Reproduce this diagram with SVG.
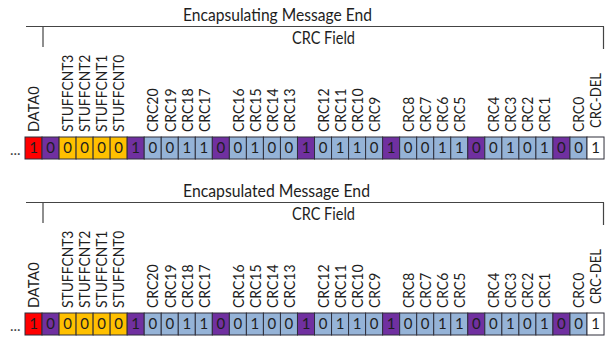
<svg xmlns="http://www.w3.org/2000/svg" width="605" height="337" viewBox="0 0 605 337">
<style>
text{font-family:Lato,"Open Sans","Liberation Sans",sans-serif;fill:#1e1e1e}
.t{font-size:17px}
.lb{font-size:16px}
.d{font-size:15px;text-anchor:middle}
.c{stroke:#2e2e3a;stroke-width:1}
.r{fill:#f00}.p{fill:#7030a0}.y{fill:#ffc000}.b{fill:#95b3d7}.w{fill:#fff}
.br{stroke:#444;stroke-width:1.2;fill:none}
.dots{font-size:15px;fill:#444}
</style>
<defs>
<g id="row">
<g id="cells">
<rect class="c r" x="25" y="0" width="17.03" height="22"/>
<rect class="c p" x="42.03" y="0" width="17.03" height="22"/>
<rect class="c y" x="59.06" y="0" width="17.03" height="22"/>
<rect class="c y" x="76.09" y="0" width="17.03" height="22"/>
<rect class="c y" x="93.12" y="0" width="17.03" height="22"/>
<rect class="c y" x="110.15" y="0" width="17.03" height="22"/>
<rect class="c p" x="127.18" y="0" width="17.03" height="22"/>
<rect class="c b" x="144.21" y="0" width="17.03" height="22"/>
<rect class="c b" x="161.24" y="0" width="17.03" height="22"/>
<rect class="c b" x="178.27" y="0" width="17.03" height="22"/>
<rect class="c b" x="195.30" y="0" width="17.03" height="22"/>
<rect class="c p" x="212.33" y="0" width="17.03" height="22"/>
<rect class="c b" x="229.36" y="0" width="17.03" height="22"/>
<rect class="c b" x="246.39" y="0" width="17.03" height="22"/>
<rect class="c b" x="263.42" y="0" width="17.03" height="22"/>
<rect class="c b" x="280.45" y="0" width="17.03" height="22"/>
<rect class="c p" x="297.48" y="0" width="17.03" height="22"/>
<rect class="c b" x="314.51" y="0" width="17.03" height="22"/>
<rect class="c b" x="331.54" y="0" width="17.03" height="22"/>
<rect class="c b" x="348.57" y="0" width="17.03" height="22"/>
<rect class="c b" x="365.60" y="0" width="17.03" height="22"/>
<rect class="c p" x="382.63" y="0" width="17.03" height="22"/>
<rect class="c b" x="399.66" y="0" width="17.03" height="22"/>
<rect class="c b" x="416.69" y="0" width="17.03" height="22"/>
<rect class="c b" x="433.72" y="0" width="17.03" height="22"/>
<rect class="c b" x="450.75" y="0" width="17.03" height="22"/>
<rect class="c p" x="467.78" y="0" width="17.03" height="22"/>
<rect class="c b" x="484.81" y="0" width="17.03" height="22"/>
<rect class="c b" x="501.84" y="0" width="17.03" height="22"/>
<rect class="c b" x="518.87" y="0" width="17.03" height="22"/>
<rect class="c b" x="535.90" y="0" width="17.03" height="22"/>
<rect class="c p" x="552.93" y="0" width="17.03" height="22"/>
<rect class="c b" x="569.96" y="0" width="17.03" height="22"/>
<rect class="c w" x="586.99" y="0" width="17.03" height="22"/>
</g>
<g id="digits">
<text class="d" x="33.52" y="16.3">1</text>
<text class="d" x="50.55" y="16.3">0</text>
<text class="d" x="67.58" y="16.3">0</text>
<text class="d" x="84.61" y="16.3">0</text>
<text class="d" x="101.64" y="16.3">0</text>
<text class="d" x="118.67" y="16.3">0</text>
<text class="d" x="135.70" y="16.3">1</text>
<text class="d" x="152.73" y="16.3">0</text>
<text class="d" x="169.76" y="16.3">0</text>
<text class="d" x="186.79" y="16.3">1</text>
<text class="d" x="203.82" y="16.3">1</text>
<text class="d" x="220.85" y="16.3">0</text>
<text class="d" x="237.88" y="16.3">0</text>
<text class="d" x="254.91" y="16.3">1</text>
<text class="d" x="271.94" y="16.3">0</text>
<text class="d" x="288.97" y="16.3">0</text>
<text class="d" x="306.00" y="16.3">1</text>
<text class="d" x="323.03" y="16.3">0</text>
<text class="d" x="340.06" y="16.3">1</text>
<text class="d" x="357.09" y="16.3">1</text>
<text class="d" x="374.12" y="16.3">0</text>
<text class="d" x="391.15" y="16.3">1</text>
<text class="d" x="408.18" y="16.3">0</text>
<text class="d" x="425.21" y="16.3">0</text>
<text class="d" x="442.24" y="16.3">1</text>
<text class="d" x="459.27" y="16.3">1</text>
<text class="d" x="476.30" y="16.3">0</text>
<text class="d" x="493.33" y="16.3">0</text>
<text class="d" x="510.36" y="16.3">1</text>
<text class="d" x="527.39" y="16.3">0</text>
<text class="d" x="544.42" y="16.3">1</text>
<text class="d" x="561.45" y="16.3">0</text>
<text class="d" x="578.48" y="16.3">0</text>
<text class="d" x="595.51" y="16.3">1</text>
</g>
<g id="labels" class="lb">
<text transform="translate(39.2,-5) rotate(-90)" textLength="45.7" lengthAdjust="spacingAndGlyphs">DATA0</text>
<text transform="translate(73.3,-5) rotate(-90)" textLength="77.4" lengthAdjust="spacingAndGlyphs">STUFFCNT3</text>
<text transform="translate(90.3,-5) rotate(-90)" textLength="77.4" lengthAdjust="spacingAndGlyphs">STUFFCNT2</text>
<text transform="translate(107.3,-5) rotate(-90)" textLength="77.4" lengthAdjust="spacingAndGlyphs">STUFFCNT1</text>
<text transform="translate(124.4,-5) rotate(-90)" textLength="77.4" lengthAdjust="spacingAndGlyphs">STUFFCNT0</text>
<text transform="translate(158.4,-5) rotate(-90)" textLength="43.6" lengthAdjust="spacingAndGlyphs">CRC20</text>
<text transform="translate(175.5,-5) rotate(-90)" textLength="43.6" lengthAdjust="spacingAndGlyphs">CRC19</text>
<text transform="translate(192.5,-5) rotate(-90)" textLength="43.6" lengthAdjust="spacingAndGlyphs">CRC18</text>
<text transform="translate(209.5,-5) rotate(-90)" textLength="43.6" lengthAdjust="spacingAndGlyphs">CRC17</text>
<text transform="translate(243.6,-5) rotate(-90)" textLength="43.6" lengthAdjust="spacingAndGlyphs">CRC16</text>
<text transform="translate(260.6,-5) rotate(-90)" textLength="43.6" lengthAdjust="spacingAndGlyphs">CRC15</text>
<text transform="translate(277.6,-5) rotate(-90)" textLength="43.6" lengthAdjust="spacingAndGlyphs">CRC14</text>
<text transform="translate(294.7,-5) rotate(-90)" textLength="43.6" lengthAdjust="spacingAndGlyphs">CRC13</text>
<text transform="translate(328.7,-5) rotate(-90)" textLength="43.6" lengthAdjust="spacingAndGlyphs">CRC12</text>
<text transform="translate(345.8,-5) rotate(-90)" textLength="43.6" lengthAdjust="spacingAndGlyphs">CRC11</text>
<text transform="translate(362.8,-5) rotate(-90)" textLength="43.6" lengthAdjust="spacingAndGlyphs">CRC10</text>
<text transform="translate(379.8,-5) rotate(-90)" textLength="35.2" lengthAdjust="spacingAndGlyphs">CRC9</text>
<text transform="translate(413.9,-5) rotate(-90)" textLength="35.2" lengthAdjust="spacingAndGlyphs">CRC8</text>
<text transform="translate(430.9,-5) rotate(-90)" textLength="35.2" lengthAdjust="spacingAndGlyphs">CRC7</text>
<text transform="translate(447.9,-5) rotate(-90)" textLength="35.2" lengthAdjust="spacingAndGlyphs">CRC6</text>
<text transform="translate(465,-5) rotate(-90)" textLength="35.2" lengthAdjust="spacingAndGlyphs">CRC5</text>
<text transform="translate(499,-5) rotate(-90)" textLength="35.2" lengthAdjust="spacingAndGlyphs">CRC4</text>
<text transform="translate(516.1,-5) rotate(-90)" textLength="35.2" lengthAdjust="spacingAndGlyphs">CRC3</text>
<text transform="translate(533.1,-5) rotate(-90)" textLength="35.2" lengthAdjust="spacingAndGlyphs">CRC2</text>
<text transform="translate(550.1,-5) rotate(-90)" textLength="35.2" lengthAdjust="spacingAndGlyphs">CRC1</text>
<text transform="translate(584.2,-5) rotate(-90)" textLength="35.2" lengthAdjust="spacingAndGlyphs">CRC0</text>
<text transform="translate(601.2,-9) rotate(-90)" textLength="55" lengthAdjust="spacingAndGlyphs">CRC-DEL</text>
</g>
</g>
</defs>
<g id="encapsulating">
<text class="t" x="183" y="21" textLength="189" lengthAdjust="spacingAndGlyphs">Encapsulating Message End</text>
<text class="t" x="292" y="44" textLength="63" lengthAdjust="spacingAndGlyphs">CRC Field</text>
<text class="dots" x="10" y="155">...</text>
<use href="#row" x="0" y="137"/>
</g>
<g id="encapsulated">
<text class="t" x="183" y="197" textLength="187" lengthAdjust="spacingAndGlyphs">Encapsulated Message End</text>
<text class="t" x="292" y="220" textLength="63" lengthAdjust="spacingAndGlyphs">CRC Field</text>
<text class="dots" x="10" y="331">...</text>
<use href="#row" x="0" y="313"/>
</g>
<g id="connectors">
<path class="br" d="M26 26.5H604M43 26.5V47M603.5 26.5V49"/>
<path class="br" d="M26 202.5H604M43 202.5V223M603.5 202.5V225"/>
</g>
</svg>
